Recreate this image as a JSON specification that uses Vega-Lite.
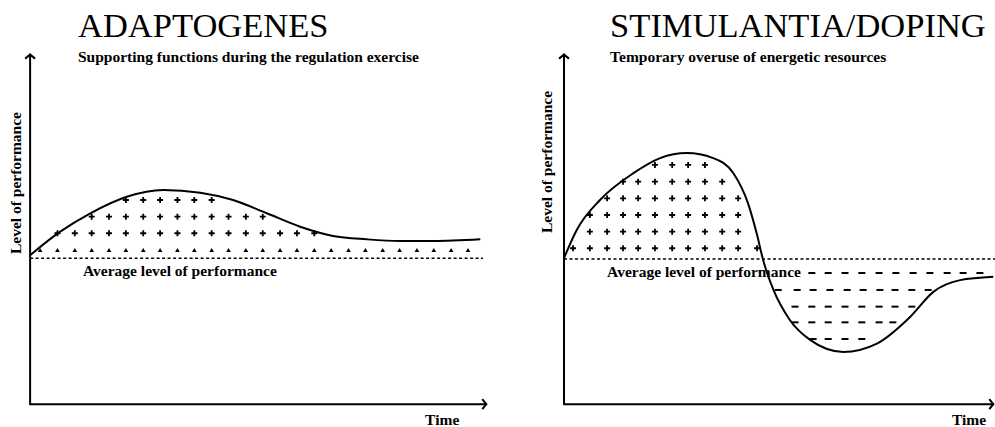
{
  "$schema": "https://vega.github.io/schema/vega-lite/v6.json",
  "padding": 0,
  "spacing": 0,
  "bounds": "flush",
  "config": {"view": {"stroke": null}, "text": {"font": "Liberation Serif", "color": "black"}},
  "datasets": {
    "leftCurve": [
      {"t": 0, "L": 3}, {"t": 6.6, "L": 26.7}, {"t": 13.2, "L": 45.2}, {"t": 21.2, "L": 61.9},
      {"t": 29.2, "L": 68.7}, {"t": 37.3, "L": 66}, {"t": 44.5, "L": 58.6}, {"t": 51.9, "L": 45.2},
      {"t": 59.2, "L": 31.7}, {"t": 66.4, "L": 22.4}, {"t": 73.8, "L": 19}, {"t": 81.1, "L": 17.3},
      {"t": 88.3, "L": 17.3}, {"t": 98.7, "L": 19}
    ],
    "rightCurve": [
      {"t": 0, "L": 0}, {"t": 2.95, "L": 28.4}, {"t": 8.35, "L": 58.6}, {"t": 16.1, "L": 85.6},
      {"t": 22.3, "L": 100.8}, {"t": 28.5, "L": 105.8}, {"t": 34.6, "L": 100.8}, {"t": 39.3, "L": 85.6},
      {"t": 42.7, "L": 55.2}, {"t": 44.7, "L": 25}, {"t": 46.2, "L": -1.8}, {"t": 48.6, "L": -32},
      {"t": 52.4, "L": -62.2}, {"t": 57.1, "L": -82.3}, {"t": 64.8, "L": -94.4}, {"t": 72.6, "L": -86},
      {"t": 80.3, "L": -59.2}, {"t": 85.7, "L": -33.9}, {"t": 91.9, "L": -22.1}, {"t": 99.6, "L": -18.7}
    ],
    "leftPlus": [
      {"t": 21.0, "L": 58.6}, {"t": 24.8, "L": 58.6}, {"t": 28.5, "L": 58.6}, {"t": 32.3, "L": 58.6}, {"t": 36.0, "L": 58.6}, {"t": 39.8, "L": 58.6},
      {"t": 13.5, "L": 41.8}, {"t": 17.3, "L": 41.8}, {"t": 21.0, "L": 41.8}, {"t": 24.8, "L": 41.8}, {"t": 28.5, "L": 41.8}, {"t": 32.3, "L": 41.8},
      {"t": 36.0, "L": 41.8}, {"t": 39.8, "L": 41.8}, {"t": 43.5, "L": 41.8}, {"t": 47.3, "L": 41.8}, {"t": 51.0, "L": 41.8},
      {"t": 6.0, "L": 25.1}, {"t": 9.8, "L": 25.1}, {"t": 13.5, "L": 25.1}, {"t": 17.3, "L": 25.1}, {"t": 21.0, "L": 25.1}, {"t": 24.8, "L": 25.1},
      {"t": 28.5, "L": 25.1}, {"t": 32.3, "L": 25.1}, {"t": 36.0, "L": 25.1}, {"t": 39.8, "L": 25.1}, {"t": 43.5, "L": 25.1}, {"t": 47.3, "L": 25.1},
      {"t": 51.0, "L": 25.1}, {"t": 54.8, "L": 25.1}, {"t": 58.5, "L": 25.1}, {"t": 62.3, "L": 25.1}
    ],
    "leftTri": [
      {"t": 2.2, "L": 8.3}, {"t": 6.0, "L": 8.3}, {"t": 9.8, "L": 8.3}, {"t": 13.5, "L": 8.3}, {"t": 17.3, "L": 8.3}, {"t": 21.0, "L": 8.3},
      {"t": 24.8, "L": 8.3}, {"t": 28.5, "L": 8.3}, {"t": 32.3, "L": 8.3}, {"t": 36.0, "L": 8.3}, {"t": 39.8, "L": 8.3}, {"t": 43.5, "L": 8.3},
      {"t": 47.3, "L": 8.3}, {"t": 51.0, "L": 8.3}, {"t": 54.8, "L": 8.3}, {"t": 58.5, "L": 8.3}, {"t": 62.3, "L": 8.3}, {"t": 66.0, "L": 8.3},
      {"t": 69.8, "L": 8.3}, {"t": 73.5, "L": 8.3}, {"t": 77.3, "L": 8.3}, {"t": 81.0, "L": 8.3}, {"t": 84.8, "L": 8.3}, {"t": 88.5, "L": 8.3},
      {"t": 92.3, "L": 8.3}, {"t": 96.0, "L": 8.3}
    ],
    "rightPlus": [
      {"t": 21.1, "L": 93.9}, {"t": 25.1, "L": 93.9}, {"t": 28.8, "L": 93.9}, {"t": 32.7, "L": 93.9},
      {"t": 13.7, "L": 77}, {"t": 17.2, "L": 77}, {"t": 21.1, "L": 77}, {"t": 25.1, "L": 77}, {"t": 28.8, "L": 77}, {"t": 32.7, "L": 77}, {"t": 36.7, "L": 77},
      {"t": 10.0, "L": 60.3}, {"t": 13.7, "L": 60.3}, {"t": 17.2, "L": 60.3}, {"t": 21.1, "L": 60.3}, {"t": 25.1, "L": 60.3}, {"t": 28.8, "L": 60.3},
      {"t": 32.7, "L": 60.3}, {"t": 36.7, "L": 60.3}, {"t": 40.4, "L": 60.3},
      {"t": 6.0, "L": 43.5}, {"t": 10.0, "L": 43.5}, {"t": 13.7, "L": 43.5}, {"t": 17.2, "L": 43.5}, {"t": 21.1, "L": 43.5}, {"t": 25.1, "L": 43.5},
      {"t": 28.8, "L": 43.5}, {"t": 32.7, "L": 43.5}, {"t": 36.7, "L": 43.5}, {"t": 40.4, "L": 43.5},
      {"t": 6.0, "L": 26.7}, {"t": 10.0, "L": 26.7}, {"t": 13.7, "L": 26.7}, {"t": 17.2, "L": 26.7}, {"t": 21.1, "L": 26.7}, {"t": 25.1, "L": 26.7},
      {"t": 28.8, "L": 26.7}, {"t": 32.7, "L": 26.7}, {"t": 36.7, "L": 26.7}, {"t": 40.4, "L": 26.7},
      {"t": 2.1, "L": 10}, {"t": 6.0, "L": 10}, {"t": 10.0, "L": 10}, {"t": 13.7, "L": 10}, {"t": 17.2, "L": 10}, {"t": 21.1, "L": 10},
      {"t": 25.1, "L": 10}, {"t": 28.8, "L": 10}, {"t": 32.7, "L": 10}, {"t": 36.7, "L": 10}, {"t": 40.4, "L": 10}, {"t": 44.8, "L": 10}
    ],
    "rightDash": [
      {"t": 57.5, "L": -14.9}, {"t": 61.3, "L": -14.9}, {"t": 65.2, "L": -14.9}, {"t": 69.1, "L": -14.9}, {"t": 73.1, "L": -14.9}, {"t": 77.0, "L": -14.9},
      {"t": 81.0, "L": -14.9}, {"t": 84.9, "L": -14.9}, {"t": 88.9, "L": -14.9}, {"t": 92.6, "L": -14.9}, {"t": 96.5, "L": -14.9},
      {"t": 49.7, "L": -32}, {"t": 54.1, "L": -32}, {"t": 57.8, "L": -32}, {"t": 61.7, "L": -32}, {"t": 65.7, "L": -32}, {"t": 69.4, "L": -32},
      {"t": 73.3, "L": -32}, {"t": 76.8, "L": -32}, {"t": 80.7, "L": -32}, {"t": 84.5, "L": -32},
      {"t": 53.6, "L": -48.8}, {"t": 57.5, "L": -48.8}, {"t": 61.3, "L": -48.8}, {"t": 65.2, "L": -48.8}, {"t": 69.1, "L": -48.8}, {"t": 73.1, "L": -48.8},
      {"t": 76.8, "L": -48.8}, {"t": 80.7, "L": -48.8},
      {"t": 53.6, "L": -64.6}, {"t": 57.5, "L": -64.6}, {"t": 61.3, "L": -64.6}, {"t": 65.2, "L": -64.6}, {"t": 69.1, "L": -64.6}, {"t": 73.1, "L": -64.6},
      {"t": 76.3, "L": -64.6},
      {"t": 57.8, "L": -81.4}, {"t": 61.3, "L": -81.4}, {"t": 65.2, "L": -81.4}, {"t": 69.1, "L": -81.4}
    ]
  },
  "hconcat": [
    {
      "width": 520,
      "height": 427,
      "encoding": {
        "x": {"field": "t", "type": "quantitative", "scale": {"domain": [-6.6, 107.4], "nice": false, "zero": false}, "axis": null},
        "y": {"field": "L", "type": "quantitative", "scale": {"domain": [-170, 260], "nice": false, "zero": false}, "axis": null}
      },
      "layer": [
        {
          "data": {"values": [{"t": 0, "t2": 99.3, "L": 0}]},
          "mark": {"type": "rule", "color": "black", "strokeWidth": 1.6, "strokeDash": [3, 2.5]},
          "encoding": {"x2": {"field": "t2"}}
        },
        {
          "data": {"values": [{"t": 0, "L": -147, "t2": 0, "L2": 205}, {"t": 0, "L": -147, "t2": 100, "L2": -147}]},
          "mark": {"type": "rule", "color": "black", "strokeWidth": 2, "strokeCap": "round"},
          "encoding": {"x2": {"field": "t2"}, "y2": {"field": "L2"}}
        },
        {
          "data": {"values": [{"t": 0, "L": 205}]},
          "mark": {"type": "point", "shape": "M-1,0.8L0,0L1,0.8", "size": 100, "filled": false, "stroke": "black", "strokeWidth": 2, "opacity": 1}
        },
        {
          "data": {"values": [{"t": 100, "L": -147}]},
          "mark": {"type": "point", "shape": "M-0.8,-1L0,0L-0.8,1", "size": 100, "filled": false, "stroke": "black", "strokeWidth": 2, "opacity": 1}
        },
        {
          "data": {"name": "leftCurve"},
          "mark": {"type": "line", "color": "black", "strokeWidth": 2, "interpolate": "monotone"}
        },
        {
          "data": {"name": "leftPlus"},
          "mark": {"type": "point", "shape": "M-1,0H1M0,-1V1", "size": 36, "filled": false, "stroke": "black", "strokeWidth": 1.8, "opacity": 1}
        },
        {
          "data": {"name": "leftTri"},
          "mark": {"type": "point", "shape": "triangle-up", "size": 22, "filled": true, "color": "black", "opacity": 1}
        },
        {
          "data": {"values": [{"t": 10.5, "L": 222.8, "text": "ADAPTOGENES"}]},
          "mark": {"type": "text", "align": "left", "baseline": "alphabetic", "fontSize": 34.5},
          "encoding": {"text": {"field": "text"}}
        },
        {
          "data": {"values": [
            {"t": 10.5, "L": 197.6, "text": "Supporting functions during the regulation exercise"},
            {"t": 11.6, "L": -17.9, "text": "Average level of performance"},
            {"t": 86.6, "L": -168, "text": "Time"}
          ]},
          "mark": {"type": "text", "align": "left", "baseline": "alphabetic", "fontSize": 15.5, "fontWeight": "bold"},
          "encoding": {"text": {"field": "text"}}
        },
        {
          "data": {"values": [{"t": -3.1, "L": 75.7, "text": "Level of performance"}]},
          "mark": {"type": "text", "align": "center", "baseline": "middle", "angle": 270, "fontSize": 15.5, "fontWeight": "bold"},
          "encoding": {"text": {"field": "text"}}
        }
      ]
    },
    {
      "width": 475,
      "height": 427,
      "encoding": {
        "x": {"field": "t", "type": "quantitative", "scale": {"domain": [-10.21, 100], "nice": false, "zero": false}, "axis": null},
        "y": {"field": "L", "type": "quantitative", "scale": {"domain": [-170, 260], "nice": false, "zero": false}, "axis": null}
      },
      "layer": [
        {
          "data": {"values": [{"t": 0, "t2": 100, "L": -0.8}]},
          "mark": {"type": "rule", "color": "black", "strokeWidth": 1.6, "strokeDash": [3, 2.5]},
          "encoding": {"x2": {"field": "t2"}}
        },
        {
          "data": {"values": [{"t": 0, "L": -147, "t2": 0, "L2": 205}, {"t": 0, "L": -147, "t2": 99.6, "L2": -147}]},
          "mark": {"type": "rule", "color": "black", "strokeWidth": 2, "strokeCap": "round"},
          "encoding": {"x2": {"field": "t2"}, "y2": {"field": "L2"}}
        },
        {
          "data": {"values": [{"t": 0, "L": 205}]},
          "mark": {"type": "point", "shape": "M-1,0.8L0,0L1,0.8", "size": 100, "filled": false, "stroke": "black", "strokeWidth": 2, "opacity": 1}
        },
        {
          "data": {"values": [{"t": 99.6, "L": -147}]},
          "mark": {"type": "point", "shape": "M-0.8,-1L0,0L-0.8,1", "size": 100, "filled": false, "stroke": "black", "strokeWidth": 2, "opacity": 1}
        },
        {
          "data": {"name": "rightCurve"},
          "mark": {"type": "line", "color": "black", "strokeWidth": 2, "interpolate": "monotone"}
        },
        {
          "data": {"name": "rightPlus"},
          "mark": {"type": "point", "shape": "M-1,0H1M0,-1V1", "size": 36, "filled": false, "stroke": "black", "strokeWidth": 1.8, "opacity": 1}
        },
        {
          "data": {"name": "rightDash"},
          "mark": {"type": "point", "shape": "M-1,0H1", "size": 49, "filled": false, "stroke": "black", "strokeWidth": 2, "opacity": 1}
        },
        {
          "data": {"values": [{"t": 10.7, "L": 222.8, "text": "STIMULANTIA/DOPING"}]},
          "mark": {"type": "text", "align": "left", "baseline": "alphabetic", "fontSize": 34.5},
          "encoding": {"text": {"field": "text"}}
        },
        {
          "data": {"values": [
            {"t": 10.7, "L": 197.6, "text": "Temporary overuse of energetic resources"},
            {"t": 10.0, "L": -19, "text": "Average level of performance"},
            {"t": 90.0, "L": -168, "text": "Time"}
          ]},
          "mark": {"type": "text", "align": "left", "baseline": "alphabetic", "fontSize": 15.5, "fontWeight": "bold"},
          "encoding": {"text": {"field": "text"}}
        },
        {
          "data": {"values": [{"t": -3.9, "L": 96.9, "text": "Level of performance"}]},
          "mark": {"type": "text", "align": "center", "baseline": "middle", "angle": 270, "fontSize": 15.5, "fontWeight": "bold"},
          "encoding": {"text": {"field": "text"}}
        }
      ]
    }
  ]
}
